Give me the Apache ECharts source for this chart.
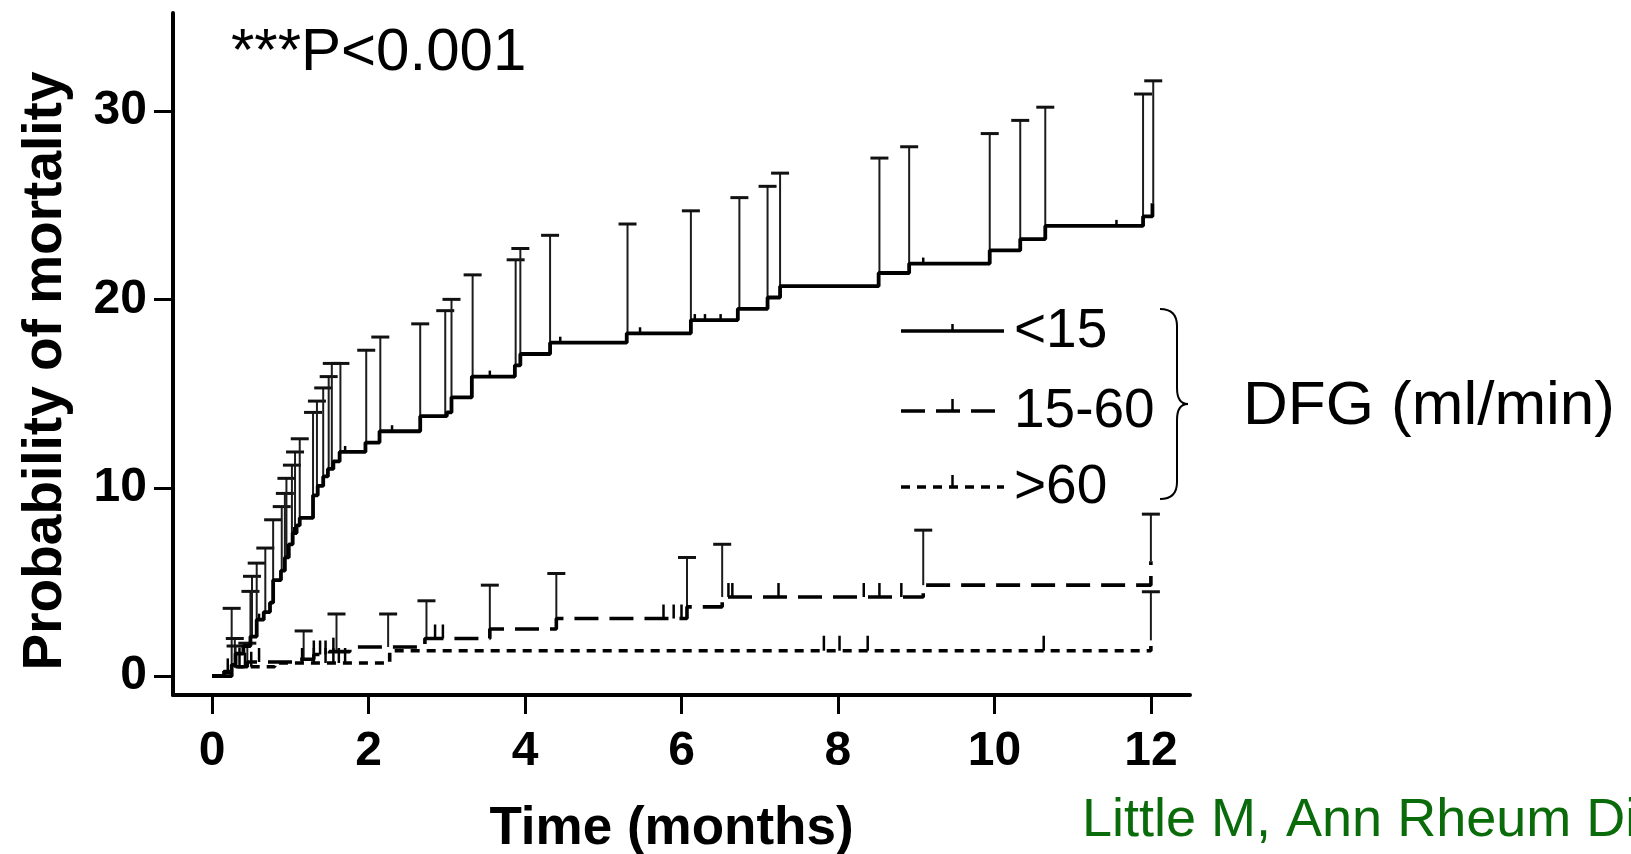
<!DOCTYPE html>
<html><head><meta charset="utf-8">
<script src="https://cdn.jsdelivr.net/npm/echarts@6/dist/echarts.min.js"></script>
<style>html,body{margin:0;padding:0;background:#fff}#chart{width:1631px;height:854px}</style>
</head><body><div id="chart"></div>
<script>
// ---- data ----
const xTicks = [0, 2, 4, 6, 8, 10, 12];
const yTicks = [0, 10, 20, 30];
const groupNames = ['<15', '15-60', '>60'];
const groupTitle = 'DFG (ml/min)';
const pText = '***P<0.001';
const citation = 'Little M, Ann Rheum Di';

// cumulative mortality steps [month, %]
const stepsLt15 = [[0,0],[0.25,0.6],[0.3,1.2],[0.4,1.6],[0.49,2.1],[0.57,3.0],[0.66,3.4],[0.74,3.9],[0.78,5.1],[0.88,5.6],[0.93,6.3],[0.98,7.0],[1.03,7.6],[1.08,8.0],[1.12,8.4],[1.29,9.6],[1.35,10.1],[1.42,10.6],[1.48,11.0],[1.55,11.4],[1.63,11.9],[1.96,12.4],[2.14,13.0],[2.66,13.8],[3.0,14.0],[3.06,14.8],[3.32,15.9],[3.87,16.5],[3.94,17.1],[4.32,17.7],[5.30,18.2],[6.12,18.9],[6.72,19.5],[7.10,20.1],[7.26,20.7],[8.52,21.4],[8.91,21.9],[9.94,22.6],[10.33,23.2],[10.65,23.9],[11.90,24.4],[12.02,25.1]];
const steps15to60 = [[0,0],[0.15,0.2],[0.3,0.5],[0.45,0.75],[1.1,0.9],[1.3,1.15],[1.5,1.3],[1.76,1.55],[2.72,2.0],[3.55,2.5],[4.4,3.06],[6.07,3.68],[6.52,4.2],[9.09,4.83],[12.0,6.1]];
const stepsGt60 = [[0,0],[0.15,0.25],[0.3,0.5],[0.8,0.7],[2.27,1.35],[12.0,1.9]];

// upper confidence bounds [month, %]
const ciLt15 = [[0.25,3.6],[0.29,2.0],[0.49,4.5],[0.51,5.3],[0.57,6.0],[0.68,6.8],[0.78,8.3],[0.89,9.0],[0.93,9.7],[0.95,10.5],[1.02,11.2],[1.06,11.9],[1.12,12.6],[1.29,14.0],[1.34,14.6],[1.42,15.3],[1.49,15.9],[1.53,16.6],[1.64,16.6],[1.97,17.3],[2.15,18.0],[2.66,18.7],[2.98,19.4],[3.06,20.0],[3.33,21.3],[3.88,22.1],[3.94,22.7],[4.32,23.4],[5.31,24.0],[6.12,24.7],[6.74,25.4],[7.10,26.0],[7.26,26.7],[8.53,27.5],[8.91,28.1],[9.94,28.8],[10.33,29.5],[10.65,30.2],[11.90,30.9],[12.03,31.6]];
const ci15to60 = [[1.17,2.4],[1.59,3.3],[2.25,3.3],[2.74,4.0],[3.55,4.83],[4.4,5.45],[6.07,6.3],[6.52,7.0],[9.09,7.75],[12.0,8.6]];
const ciGt60 = [[0.3,1.6],[0.45,1.75],[12.0,4.48]];

// censoring marks [month]
const censLt15 = [0.35,0.6,1.05,1.7,2.3,3.55,4.45,5.47,6.17,6.3,6.5,9.09,11.56];
const cens15to60 = [0.2,0.42,0.6,1.3,1.38,1.45,1.55,2.85,2.95,5.77,5.9,6.0,6.6,6.65,7.24,8.33,8.53,8.81];
const censGt60 = [0.35,0.5,1.15,1.3,1.45,1.55,1.62,1.7,7.82,8.02,8.38,10.63];

// ---- chart ----
const FONT = '"Liberation Sans", Arial, Helvetica, sans-serif';
function stepAt(steps, t) {
  let v = steps[0][1];
  for (const s of steps) { if (s[0] <= t + 1e-9) v = s[1]; else break; }
  return v;
}
function curve(name, steps, dash, width) {
  return { type: 'line', name, data: steps, step: 'end', symbol: 'none', z: 4,
    lineStyle: { color: '#000', width, type: dash, cap: 'butt' }, silent: true };
}
function ciSeries(name, steps, ci) {
  return { type: 'custom', name: name + ' CI', silent: true, z: 3,
    data: ci.map(d => [d[0], stepAt(steps, d[0]), d[1]]),
    encode: { x: 0, y: [1, 2] },
    renderItem(params, api) {
      const a = api.coord([api.value(0), api.value(1)]);
      const b = api.coord([api.value(0), api.value(2)]);
      return { type: 'group', children: [
        { type: 'line', shape: { x1: a[0], y1: a[1], x2: b[0], y2: b[1] }, style: { stroke: '#1c1c1c', lineWidth: 2 } },
        { type: 'line', shape: { x1: b[0] - 9, y1: b[1], x2: b[0] + 9, y2: b[1] }, style: { stroke: '#111', lineWidth: 3 } }
      ] };
    } };
}
function censSeries(name, steps, ts, h) {
  return { type: 'custom', name: name + ' censored', silent: true, z: 5,
    data: ts.map(t => [t, stepAt(steps, t)]),
    encode: { x: 0, y: 1 },
    renderItem(params, api) {
      const a = api.coord([api.value(0), api.value(1)]);
      return { type: 'line', shape: { x1: a[0], y1: a[1], x2: a[0], y2: a[1] - h }, style: { stroke: '#000', lineWidth: 2.5 } };
    } };
}

const chart = echarts.init(document.getElementById('chart'), null, { renderer: 'canvas' });
const legendX0 = 901, legendX1 = 1004, legendYs = [331, 411, 487];
const dashes = ['solid', [24, 11], [9, 7]];
const tickH = [7, 12, 12];
const legendGraphics = [];
groupNames.forEach((g, i) => {
  const y = legendYs[i];
  legendGraphics.push({ type: 'line', shape: { x1: legendX0, y1: y, x2: legendX1, y2: y },
    style: { stroke: '#000', lineWidth: 3.5, lineDash: dashes[i] === 'solid' ? null : dashes[i] } });
  const mx = (legendX0 + legendX1) / 2;
  legendGraphics.push({ type: 'line', shape: { x1: mx, y1: y, x2: mx, y2: y - tickH[i] }, style: { stroke: '#000', lineWidth: 2.5 } });
  legendGraphics.push({ type: 'text', x: 1014, y: y + 1, style: { text: g, font: '55px ' + FONT, fill: '#000', verticalAlign: 'middle', align: 'left' } });
});
const braceStyle = { stroke: '#000', lineWidth: 2, fill: null };
const brace = [
  { type: 'bezierCurve', shape: { x1: 1160, y1: 309, x2: 1177, y2: 326, cpx1: 1177, cpy1: 309 }, style: braceStyle },
  { type: 'line', shape: { x1: 1177, y1: 326, x2: 1177, y2: 388 }, style: braceStyle },
  { type: 'bezierCurve', shape: { x1: 1177, y1: 388, x2: 1188, y2: 404, cpx1: 1177, cpy1: 404 }, style: braceStyle },
  { type: 'bezierCurve', shape: { x1: 1188, y1: 404, x2: 1177, y2: 420, cpx1: 1177, cpy1: 404 }, style: braceStyle },
  { type: 'line', shape: { x1: 1177, y1: 420, x2: 1177, y2: 482 }, style: braceStyle },
  { type: 'bezierCurve', shape: { x1: 1177, y1: 482, x2: 1160, y2: 499, cpx1: 1177, cpy1: 499 }, style: braceStyle }
];

chart.setOption({
  animation: false,
  backgroundColor: '#fff',
  grid: { left: 173, right: 441, top: 13, bottom: 159, containLabel: false, outerBoundsMode: 'none' },
  xAxis: {
    type: 'value', min: -0.5, max: 12.5,
    name: 'Time (months)', nameLocation: 'middle', nameGap: 108,
    nameTextStyle: { fontFamily: FONT, fontWeight: 'bold', fontSize: 53, color: '#000', padding: [0, 20, 0, 0] },
    axisLine: { onZero: false, lineStyle: { color: '#000', width: 4 } },
    axisTick: { show: true, length: 19, customValues: xTicks, lineStyle: { color: '#000', width: 3 } },
    axisLabel: { customValues: xTicks, margin: 33, fontFamily: FONT, fontWeight: 'bold', fontSize: 48, color: '#000' },
    splitLine: { show: false }
  },
  yAxis: {
    type: 'value', min: -1, max: 35.2,
    name: 'Probability of mortality', nameLocation: 'middle', nameGap: 100, nameRotate: 90,
    nameTextStyle: { fontFamily: FONT, fontWeight: 'bold', fontSize: 55, color: '#000', padding: [0, 34, 0, 0] },
    axisLine: { onZero: false, lineStyle: { color: '#000', width: 4 } },
    axisTick: { show: true, length: 19, customValues: yTicks, lineStyle: { color: '#000', width: 3 } },
    axisLabel: { customValues: yTicks, margin: 26, fontFamily: FONT, fontWeight: 'bold', fontSize: 48, color: '#000' },
    splitLine: { show: false }
  },
  series: [
    curve(groupNames[0], stepsLt15, 'solid', 3.8),
    curve(groupNames[1], steps15to60, dashes[1], 3.6),
    curve(groupNames[2], stepsGt60, dashes[2], 3.6),
    ciSeries(groupNames[0], stepsLt15, ciLt15),
    ciSeries(groupNames[1], steps15to60, ci15to60),
    ciSeries(groupNames[2], stepsGt60, ciGt60),
    censSeries(groupNames[0], stepsLt15, censLt15, 6),
    censSeries(groupNames[1], steps15to60, cens15to60, 14),
    censSeries(groupNames[2], stepsGt60, censGt60, 15)
  ],
  graphic: [
    { type: 'text', x: 231, y: 53, style: { text: pText, font: '60px ' + FONT, fill: '#000', verticalAlign: 'middle', align: 'left' } },
    ...legendGraphics,
    ...brace,
    { type: 'text', x: 1243, y: 407, style: { text: groupTitle, font: '62px ' + FONT, fill: '#000', verticalAlign: 'middle', align: 'left' } },
    { type: 'text', x: 1082, y: 821, style: { text: citation, font: '54px ' + FONT, fill: '#0a6b0a', verticalAlign: 'middle', align: 'left' } }
  ]
});
</script>
</body></html>
